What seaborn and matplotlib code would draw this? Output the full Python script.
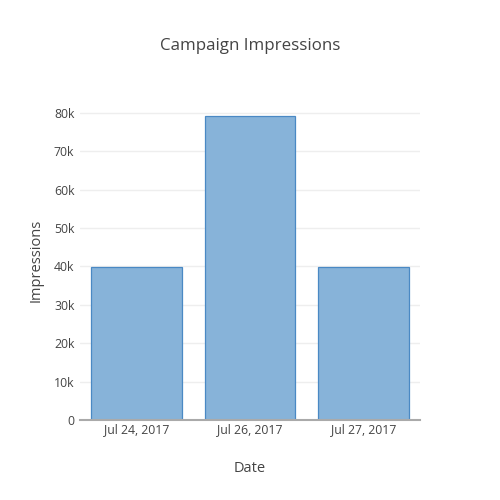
import matplotlib
matplotlib.use("Agg")
import matplotlib.pyplot as plt
import seaborn as sns
import pandas as pd

# data
dates = ["Jul 24, 2017", "Jul 26, 2017", "Jul 27, 2017"]
impressions = [39700, 79100, 39700]
y_ticks = [0, 10000, 20000, 30000, 40000, 50000, 60000, 70000, 80000]
y_tick_labels = ["0", "10k", "20k", "30k", "40k", "50k", "60k", "70k", "80k"]

df = pd.DataFrame({"Date": dates, "Impressions": impressions})

sns.set_style("white")
plt.rcParams["font.family"] = ["Open Sans", "DejaVu Sans"]
text_color = "#444444"

fig = plt.figure(figsize=(5, 5), dpi=100)
ax = fig.add_axes([0.16, 0.16, 0.68, 0.64])

sns.barplot(data=df, x="Date", y="Impressions", ax=ax, width=0.8,
            color="#87b3d9", saturation=1, edgecolor="#4a89c4", linewidth=0.9)

ax.set_xlim(-0.5, 2.5)
ax.set_ylim(0, 83300)
ax.set_yticks(y_ticks)
ax.set_yticklabels(y_tick_labels)
ax.yaxis.grid(True, color="#eeeeee", linewidth=1)
ax.set_axisbelow(True)

for s in ["top", "right", "left"]:
    ax.spines[s].set_visible(False)
ax.spines["bottom"].set_color("#aaaaaa")
ax.spines["bottom"].set_linewidth(1.5)

ax.tick_params(axis="both", length=0, labelsize=8.8, colors=text_color)
ax.tick_params(axis="x", pad=2)
ax.tick_params(axis="y", pad=4)

ax.set_xlabel("Date", fontsize=10.5, color=text_color, labelpad=18)
ax.set_ylabel("Impressions", fontsize=10.5, color=text_color, labelpad=7)
fig.suptitle("Campaign Impressions", fontsize=12.2, color=text_color, y=0.925)

fig.savefig("out.png", dpi=100, facecolor="white")
